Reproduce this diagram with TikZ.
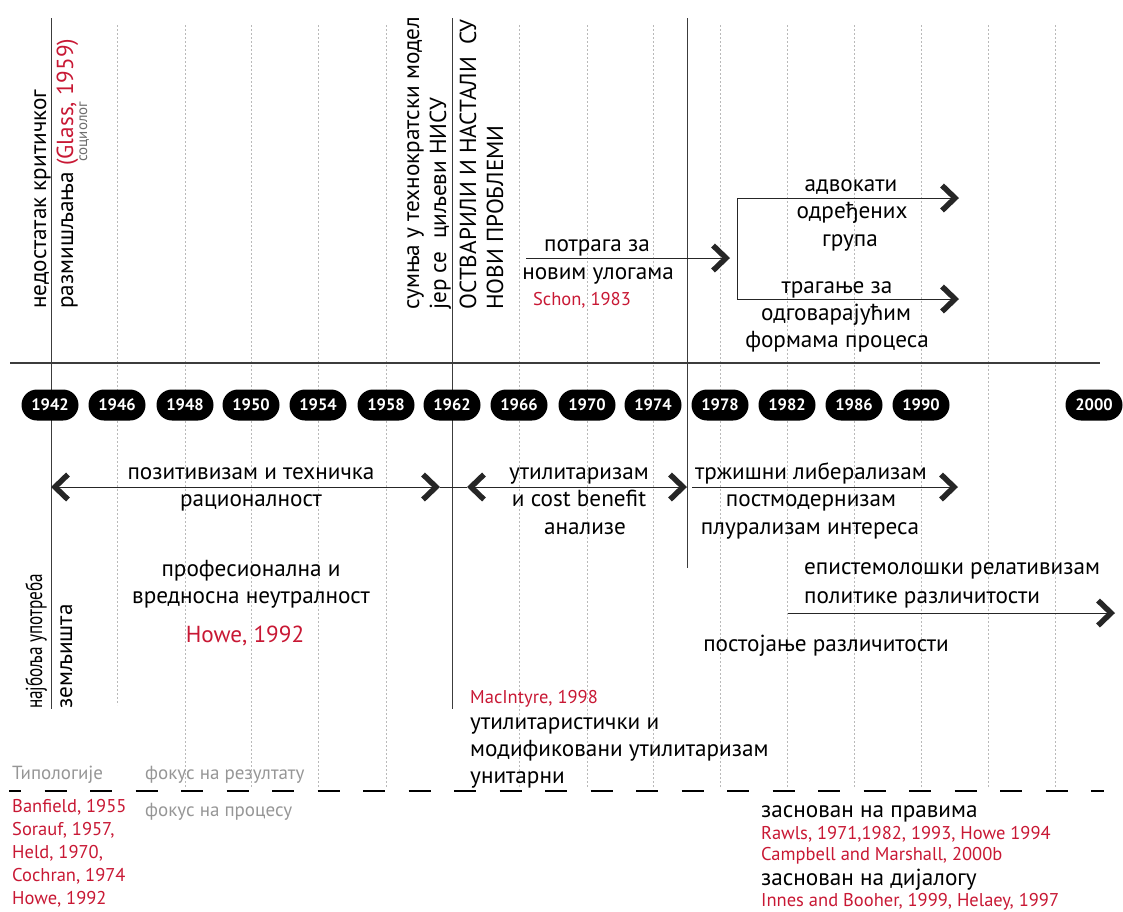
\documentclass[tikz,border=0pt]{standalone}
\usepackage{fontspec}
\setmainfont{PT Sans}
\usetikzlibrary{arrows.meta}
\definecolor{cite}{RGB}{200,24,52}
\definecolor{soft}{RGB}{150,150,150}
\definecolor{softdark}{RGB}{110,110,110}
\definecolor{axis}{RGB}{60,60,60}
\definecolor{gridc}{RGB}{185,185,185}
\begin{document}
\begin{tikzpicture}[x=1pt,y=-1pt,
  chev/.tip={Straight Barb[length=13pt,width=25pt,line width=5.5pt]},
  conn/.style={draw=black!85, line width=0.9pt},
  txt/.style={font=\fontsize{23.2}{27}\selectfont, inner sep=0pt, anchor=base},
  txtl/.style={txt, anchor=base west},
  sm/.style={font=\fontsize{18.5}{21}\selectfont, inner sep=0pt, anchor=base west, text=cite},
  gr/.style={font=\fontsize{19}{21}\selectfont, inner sep=0pt, anchor=base west, text=soft},
  rot/.style={txt, rotate=90, anchor=base west},
  pill/.style={fill=black, text=white, font=\fontsize{16.5}{18}\selectfont\bfseries,
    rounded corners=15.5pt, minimum width=57pt, minimum height=31pt, inner sep=0pt},
  dotl/.style={draw=gridc, line width=0.7pt, dash pattern=on 2pt off 2pt},
  solidl/.style={draw=axis, line width=1pt}]
\useasboundingbox (0,0) rectangle (1123,911);

% grid of dotted year lines
\draw[dotl] (117,25) -- (117,705);
\foreach \x in {185,251,318,386,519,587,653,720,787,854,921,988,1055}
  \draw[dotl] (\x,25) -- (\x,787);

% solid vertical marker lines
\draw[solidl] (51,18) -- (51,709);
\draw[solidl] (452,18) -- (452,709);
\draw[solidl] (687,18) -- (687,568);

% horizontal axis line
\draw[draw=axis, line width=1.6pt] (10,363) -- (1100,363);

% dashed divider
\draw[draw=black, line width=1.8pt, dash pattern=on 22pt off 23.5pt, dash phase=10pt] (9,791) -- (1104,791);

% year pills
\foreach \yr/\x in {1942/50,1946/117,1948/185,1950/251,1954/318,1958/386,1962/452,1966/519,1970/587,1974/653,1978/720,1982/787,1986/854,1990/921,2000/1094}
  \node[pill] (p\yr) at (\x,405) {\yr};

% ---------- top rotated texts ----------
\node[rot] (t1) at (46,309) {недостатак критичког};
\node[rot] (t2) at (73,309) {размишљања {\color{cite}(Glass, 1959)}};
\node[rot, font=\fontsize{15}{17}\selectfont, text=softdark] (t3) at (87,162) {социолог};
\node[rot] (t4) at (419,310) {сумња у технократски модел};
\node[rot] (t5) at (446,310) {јер се \ циљеви НИСУ};
\node[rot] (t6) at (476,310) {ОСТВАРИЛИ И НАСТАЛИ \ СУ};
\node[rot] (t7) at (503,310) {НОВИ ПРОБЛЕМИ};

% search for new roles
\node[txt] (n1) at (597,251) {потрага за};
\node[txt] (n2) at (598,279) {новим улогама};
\node[sm, anchor=base] (n3) at (582,305) {Schon, 1983};
\coordinate (a5s) at (526,258);
\coordinate (a5e) at (730,258);
\draw[conn,-chev] (a5s) -- (a5e);

% bracket
\coordinate (bm) at (737,248.5);
\coordinate (b1e) at (959,198);
\coordinate (b2e) at (959,299);
\draw[conn,-chev] (bm) |- (b1e);
\draw[conn,-chev] (bm) |- (b2e);
\node[txt] (d1) at (851,191) {адвокати};
\node[txt] (d2) at (852,218.5) {одређених};
\node[txt] (d3) at (850,246) {група};
\node[txt] (d4) at (837,293) {трагање за};
\node[txt] (d5) at (836,320) {одговарајућим};
\node[txt] (d6) at (837,347) {формама процеса};

% ---------- middle ----------
\coordinate (a1l) at (51,487);
\coordinate (a1r) at (440,487);
\coordinate (a2l) at (467,487);
\coordinate (a2r) at (687,487);
\draw[conn,chev-chev] (a1l) -- (a1r);
\draw[conn] (a1r) -- (a2l);
\draw[conn,chev-chev] (a2l) -- (a2r);
\coordinate (a3s) at (692,487);
\coordinate (a3e) at (958,487);
\draw[conn,-chev] (a3s) -- (a3e);
\coordinate (a4s) at (788,613);
\coordinate (a4e) at (1115,613);
\draw[conn,-chev] (a4s) -- (a4e);

\node[txt] (m1) at (251,479) {позитивизам и техничка};
\node[txt] (m2) at (251,506.5) {рационалност};
\node[txt] (m3) at (579,479) {утилитаризам};
\node[txt] (m4) at (579,506.5) {и cost benefit};
\node[txt] (m5) at (585,534) {анализе};
\node[txt] (m6) at (811,479) {тржишни либерализам};
\node[txt] (m7) at (811,506.5) {постмодернизам};
\node[txt] (m8) at (810,534) {плурализам интереса};
\node[txt] (m9) at (251,576) {професионална и};
\node[txt] (m10) at (251,603) {вредносна неутралност};
\node[txt, text=cite] (m11) at (245,642) {Howe, 1992};
\node[txtl] (m12) at (804,574) {епистемолошки релативизам};
\node[txtl] (m13) at (804,603) {политике различитости};
\node[txt] (m14) at (826,651) {постојање различитости};

\node[rot] (l1) at (42,709) {\scalebox{0.74}[1]{најбоља употреба}};
\node[rot] (l2) at (72,709) {земљишта};

\node[sm] (u0) at (470,703) {MacIntyre, 1998};
\node[txtl] (u1) at (470,729) {утилитаристички и};
\node[txtl] (u2) at (470,756) {модификовани утилитаризам};
\node[txtl] (u3) at (470,783) {унитарни};

% ---------- bottom ----------
\node[gr] (g1) at (12,779) {Типологије};
\node[gr] (g2) at (145,779) {фокус на резултату};
\node[gr] (g3) at (145,816) {фокус на процесу};

\node[sm] (c1) at (12,812) {Banfield, 1955};
\node[sm] (c2) at (12,835) {Sorauf, 1957,};
\node[sm] (c3) at (12,858) {Held, 1970,};
\node[sm] (c4) at (12,881) {Cochran, 1974};
\node[sm] (c5) at (12,904) {Howe, 1992};

\node[txtl] (r1) at (761,817) {заснован на правима};
\node[sm] (r2) at (761,839) {Rawls, 1971,1982, 1993, Howe 1994};
\node[sm] (r3) at (761,860) {Campbell and Marshall, 2000b};
\node[txtl] (r4) at (761,885) {заснован на дијалогу};
\node[sm] (r5) at (761,906) {Innes and Booher, 1999, Helaey, 1997};
\end{tikzpicture}
\end{document}
